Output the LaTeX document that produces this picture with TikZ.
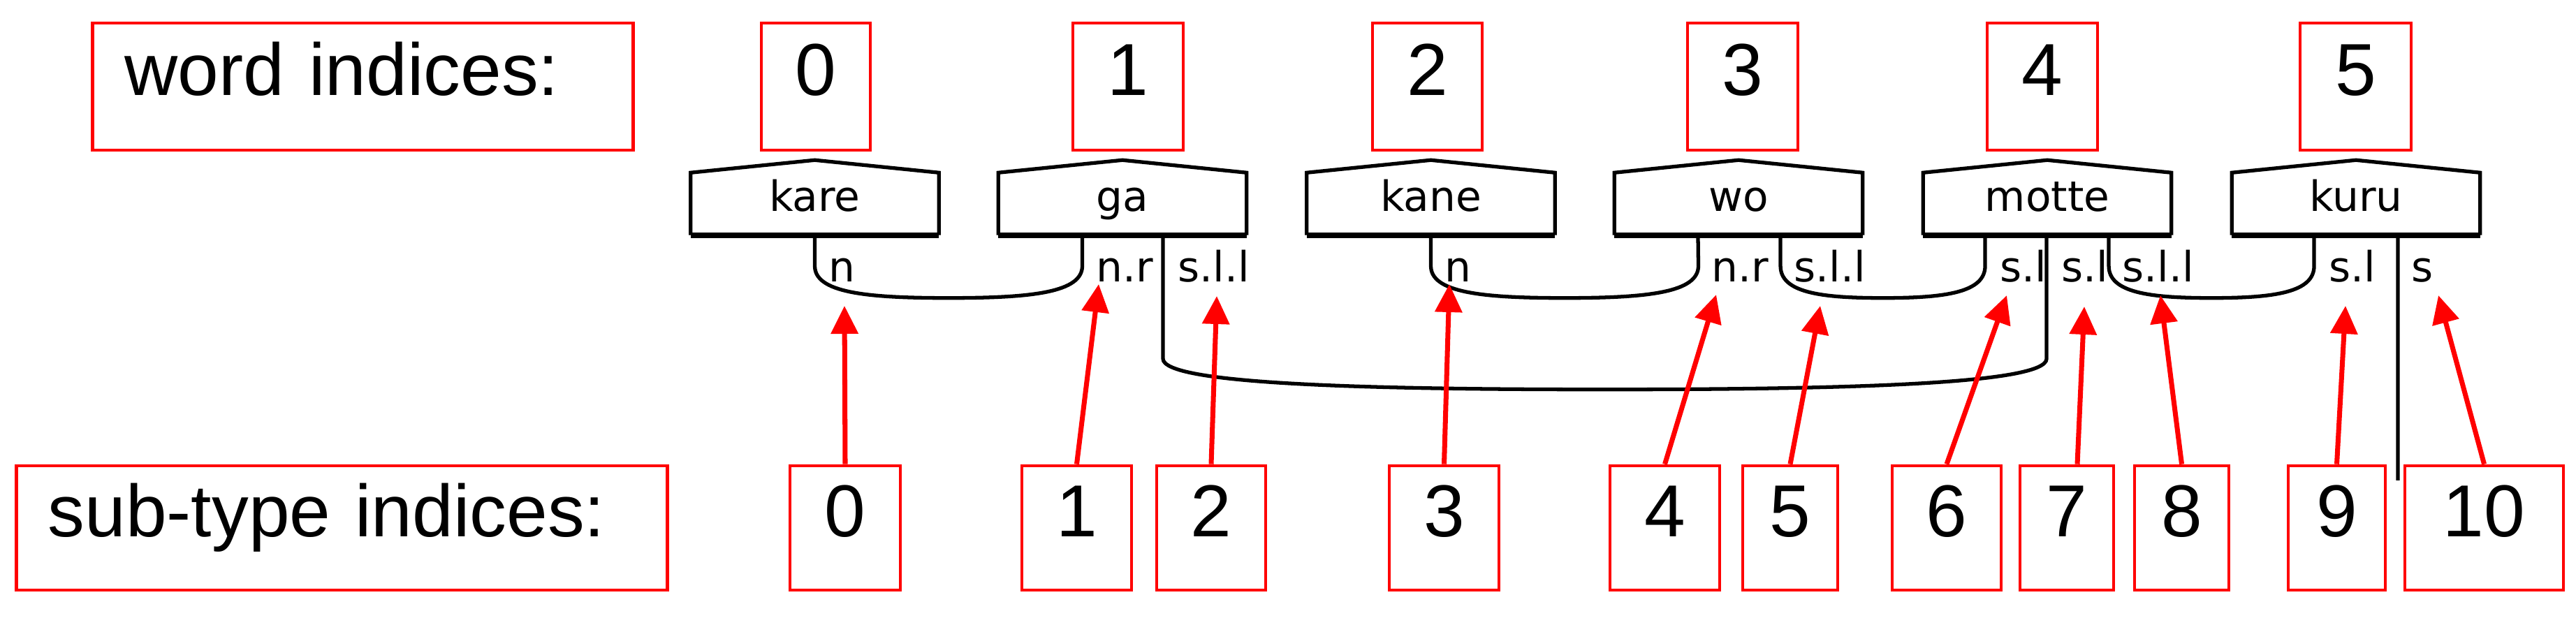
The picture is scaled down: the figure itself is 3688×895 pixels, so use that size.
\documentclass[tikz,border=0pt]{standalone}
\usepackage{fontspec}
\setmainfont{Liberation Sans}
\newfontfamily\dvs{DejaVu Sans}
\usetikzlibrary{arrows.meta,calc}
\begin{document}
\begin{tikzpicture}[x=0.01cm,y=-0.01cm,
  rbox/.style={draw=red, line width=1.3pt, inner sep=0pt, minimum height=1.82cm,
     font=\fontsize{30}{36}\selectfont, text height=0.716em, text depth=0pt},
  sbox/.style={rbox, minimum height=1.78cm},
  word/.style={minimum width=3.54cm, minimum height=0.88cm, inner sep=0pt,
     font=\dvs\fontsize{17}{20}\selectfont, text height=0.76em, text depth=0.16em},
  pent/.style={draw=black, line width=1.5pt, line join=miter},
  base/.style={draw=black, line width=2.3pt},
  conn/.style={draw=black, line width=1.5pt},
  lab/.style={inner sep=0pt, anchor=base west, font=\dvs\fontsize{17}{20}\selectfont},
  arr/.style={draw=red, line width=2pt, -{Triangle[length=0.4cm, width=0.38cm]}}
]
\useasboundingbox (0,0) rectangle (3688,895);

% word index boxes
\node[rbox, minimum width=7.73cm, text width=6.81cm, align=left] (wlab) at (519.5,124) {word indices:};
\node[rbox, minimum width=1.56cm] (w0) at (1168,124) {0};
\node[rbox, minimum width=1.58cm] (w1) at (1615,124) {1};
\node[rbox, minimum width=1.57cm] (w2) at (2043.5,124) {2};
\node[rbox, minimum width=1.58cm] (w3) at (2495,124) {3};
\node[rbox, minimum width=1.58cm] (w4) at (2924,124) {4};
\node[rbox, minimum width=1.59cm] (w5) at (3372.5,124) {5};

% word nodes
\node[word] (kare) at (1166.5,292) {kare};
\node[word] (ga) at (1607,292) {ga};
\node[word] (kane) at (2048.5,292) {kane};
\node[word] (wo) at (2489,292) {wo};
\node[word] (motte) at (2931,292) {motte};
\node[word] (kuru) at (3373,292) {kuru};
\foreach \n in {kare,ga,kane,wo,motte,kuru}{
  \draw[pent] (\n.south west) -- (\n.north west) -- ([yshift=0.18cm]\n.north) -- (\n.north east) -- (\n.south east);
  \draw[base] (\n.south west) -- (\n.south east);
}

% ports
\coordinate (kareN) at (kare.south);
\coordinate (gaNR) at ([xshift=-0.575cm]ga.south);
\coordinate (gaSLL) at ([xshift=0.58cm]ga.south);
\coordinate (kaneN) at (kane.south);
\coordinate (woNR) at ([xshift=-0.58cm]wo.south);
\coordinate (woSLL) at ([xshift=0.6cm]wo.south);
\coordinate (motteSLa) at ([xshift=-0.89cm]motte.south);
\coordinate (motteSLb) at ([xshift=-0.01cm]motte.south);
\coordinate (motteSLL) at ([xshift=0.88cm]motte.south);
\coordinate (kuruSL) at ([xshift=-0.6cm]kuru.south);
\coordinate (kuruS) at ([xshift=0.6cm]kuru.south);
\coordinate (kuruEnd) at (3433,688);

% port labels
\node[lab] (lkareN) at ($(kareN)+(19,67)$) {n};
\node[lab] (lgaNR) at ($(gaNR)+(19,67)$) {n.r};
\node[lab] (lgaSLL) at ($(gaSLL)+(21,67)$) {s.l.l};
\node[lab] (lkaneN) at ($(kaneN)+(19,67)$) {n};
\node[lab] (lwoNR) at ($(woNR)+(19,67)$) {n.r};
\node[lab] (lwoSLL) at ($(woSLL)+(19,67)$) {s.l.l};
\node[lab] (lmotteSLa) at ($(motteSLa)+(21,67)$) {s.l};
\node[lab] (lmotteSLb) at ($(motteSLb)+(21,67)$) {s.l};
\node[lab] (lmotteSLL) at ($(motteSLL)+(19,67)$) {s.l.l};
\node[lab] (lkuruSL) at ($(kuruSL)+(21,67)$) {s.l};
\node[lab] (lkuruS) at ($(kuruS)+(19,67)$) {s};

% connectors
\draw[conn] (kareN) -- ++(0,44) .. controls +(0,38) and +(-120,0) .. ++(191.5,46)
   .. controls +(120,0) and +(0,38) .. ++(191.5,-46) -- (gaNR);
\draw[conn] (kaneN) -- ++(0,44) .. controls +(0,38) and +(-120,0) .. ++(191.5,46)
   .. controls +(120,0) and +(0,38) .. ++(191.5,-46) -- (woNR);
\draw[conn] (woSLL) -- ++(0,44) .. controls +(0,38) and +(-90,0) .. ++(146.5,46)
   .. controls +(90,0) and +(0,38) .. ++(146.5,-46) -- (motteSLa);
\draw[conn] (motteSLL) -- ++(0,44) .. controls +(0,38) and +(-90,0) .. ++(147,46)
   .. controls +(90,0) and +(0,38) .. ++(147,-46) -- (kuruSL);
\draw[conn] (gaSLL) -- ++(0,177) .. controls +(0,36) and +(-350,0) .. ++(632.5,44)
   .. controls +(350,0) and +(0,36) .. ++(632.5,-44) -- (motteSLb);
\draw[conn] (kuruS) -- (kuruEnd);

% sub-type index boxes
\node[sbox, minimum width=9.31cm, text width=8.41cm, align=left] (slab) at (489.5,756) {sub-type indices:};
\node[sbox, minimum width=1.58cm] (s0) at (1210,756) {0};
\node[sbox, minimum width=1.57cm] (s1) at (1541.5,756) {1};
\node[sbox, minimum width=1.56cm] (s2) at (1734,756) {2};
\node[sbox, minimum width=1.57cm] (s3) at (2067.5,756) {3};
\node[sbox, minimum width=1.57cm] (s4) at (2383.5,756) {4};
\node[sbox, minimum width=1.36cm] (s5) at (2563,756) {5};
\node[sbox, minimum width=1.56cm] (s6) at (2787,756) {6};
\node[sbox, minimum width=1.34cm] (s7) at (2959,756) {7};
\node[sbox, minimum width=1.35cm] (s8) at (3123.5,756) {8};
\node[sbox, minimum width=1.39cm] (s9) at (3345.5,756) {9};
\node[sbox, minimum width=2.27cm] (s10) at (3556.5,756) {10};

% arrow tips
\coordinate (t0) at (1209,438);
\coordinate (t1) at (1573,407);
\coordinate (t2) at (1742,424);
\coordinate (t3) at (2075,407);
\coordinate (t4) at (2457,422);
\coordinate (t5) at (2606,438);
\coordinate (t6) at (2873,423);
\coordinate (t7) at (2984,439);
\coordinate (t8) at (3093,423);
\coordinate (t9) at (3358,438);
\coordinate (t10) at (3491,423);

\draw[arr] (s0.north) -- (t0);
\draw[arr] (s1.north) -- (t1);
\draw[arr] (s2.north) -- (t2);
\draw[arr] (s3.north) -- (t3);
\draw[arr] (s4.north) -- (t4);
\draw[arr] (s5.north) -- (t5);
\draw[arr] (s6.north) -- (t6);
\draw[arr] ([xshift=0.15cm]s7.north) -- (t7);
\draw[arr] (s8.north) -- (t8);
\draw[arr] (s9.north) -- (t9);
\draw[arr] (s10.north) -- (t10);
\end{tikzpicture}
\end{document}
